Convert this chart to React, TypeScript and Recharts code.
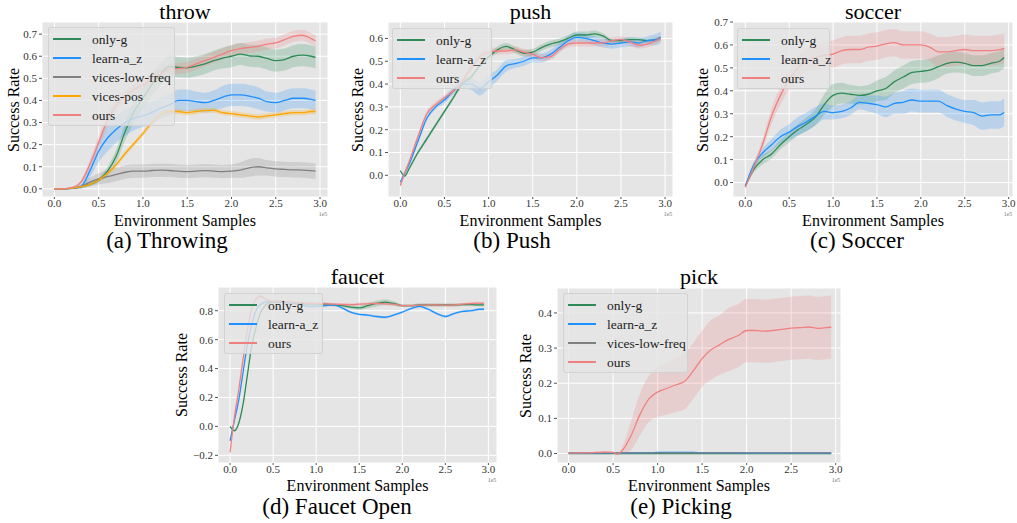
import React from "react"
import { Area, CartesianGrid, ComposedChart, Line, XAxis, YAxis } from "recharts"

const FONT = '"Liberation Serif", "Times New Roman", serif'

const COLORS = {
  onlyG: "#2e8b57",
  learnAz: "#1e90ff",
  vicesLow: "#808080",
  vicesPos: "#ffa500",
  ours: "#f08080",
}
const LABELS = {
  onlyG: "only-g",
  learnAz: "learn-a_z",
  vicesLow: "vices-low-freq",
  vicesPos: "vices-pos",
  ours: "ours",
}

const xTicks = [0, 0.5, 1, 1.5, 2, 2.5, 3]

// ---- throw ----
const throwX = [0, 0.1, 0.2, 0.3, 0.4, 0.5, 0.6, 0.7, 0.8, 0.9, 1.0, 1.1, 1.2, 1.3, 1.4, 1.5, 1.6, 1.7, 1.8, 1.9, 2.0, 2.1, 2.2, 2.3, 2.4, 2.5, 2.6, 2.7, 2.8, 2.9, 2.95]
const throwOnlyG = [0, 0, 0.002, 0.01, 0.02, 0.04, 0.08, 0.15, 0.26, 0.35, 0.41, 0.47, 0.52, 0.553, 0.55, 0.548, 0.555, 0.565, 0.58, 0.592, 0.6, 0.61, 0.602, 0.6, 0.59, 0.58, 0.585, 0.6, 0.605, 0.6, 0.595]
const throwOnlyGBand = [0.002, 0.002, 0.003, 0.005, 0.008, 0.01, 0.02, 0.03, 0.04, 0.05, 0.05, 0.05, 0.05, 0.05, 0.045, 0.045, 0.045, 0.045, 0.045, 0.048, 0.05, 0.05, 0.05, 0.05, 0.05, 0.05, 0.05, 0.05, 0.05, 0.05, 0.05]
const throwLearn = [0, 0, 0.002, 0.01, 0.08, 0.17, 0.23, 0.27, 0.3, 0.32, 0.33, 0.345, 0.365, 0.38, 0.4, 0.4, 0.395, 0.39, 0.4, 0.415, 0.425, 0.425, 0.42, 0.41, 0.395, 0.39, 0.4, 0.41, 0.41, 0.405, 0.4]
const throwLearnBand = [0.002, 0.002, 0.003, 0.01, 0.03, 0.05, 0.06, 0.06, 0.06, 0.055, 0.05, 0.05, 0.05, 0.05, 0.05, 0.05, 0.045, 0.045, 0.045, 0.05, 0.05, 0.05, 0.05, 0.05, 0.045, 0.045, 0.045, 0.045, 0.045, 0.045, 0.045]
const throwVicesLow = [0, 0, 0.003, 0.01, 0.03, 0.045, 0.055, 0.065, 0.075, 0.08, 0.08, 0.083, 0.085, 0.083, 0.08, 0.078, 0.08, 0.082, 0.08, 0.078, 0.08, 0.085, 0.095, 0.1, 0.095, 0.09, 0.088, 0.086, 0.085, 0.082, 0.08]
const throwVicesLowBand = [0.002, 0.002, 0.005, 0.01, 0.02, 0.025, 0.03, 0.03, 0.03, 0.03, 0.03, 0.03, 0.03, 0.03, 0.03, 0.03, 0.03, 0.03, 0.03, 0.03, 0.03, 0.035, 0.04, 0.04, 0.035, 0.035, 0.035, 0.035, 0.035, 0.035, 0.035]
const throwVicesPos = [0, 0, 0.003, 0.01, 0.02, 0.04, 0.07, 0.11, 0.16, 0.205, 0.25, 0.3, 0.335, 0.35, 0.35, 0.345, 0.35, 0.355, 0.355, 0.345, 0.34, 0.335, 0.33, 0.325, 0.33, 0.335, 0.34, 0.345, 0.345, 0.35, 0.35]
const throwVicesPosBand = [0.002, 0.002, 0.003, 0.005, 0.005, 0.008, 0.01, 0.012, 0.012, 0.012, 0.012, 0.012, 0.012, 0.012, 0.012, 0.012, 0.012, 0.012, 0.012, 0.012, 0.012, 0.012, 0.012, 0.012, 0.012, 0.012, 0.012, 0.012, 0.012, 0.012, 0.012]
const throwOurs = [0, 0, 0.005, 0.03, 0.11, 0.21, 0.31, 0.38, 0.42, 0.45, 0.47, 0.5, 0.52, 0.54, 0.545, 0.55, 0.565, 0.58, 0.595, 0.61, 0.625, 0.635, 0.64, 0.645, 0.655, 0.66, 0.675, 0.69, 0.695, 0.68, 0.67]
const throwOursBand = [0.002, 0.003, 0.005, 0.01, 0.02, 0.03, 0.03, 0.03, 0.025, 0.025, 0.025, 0.025, 0.025, 0.025, 0.025, 0.025, 0.025, 0.025, 0.025, 0.025, 0.025, 0.025, 0.025, 0.025, 0.025, 0.025, 0.025, 0.025, 0.025, 0.025, 0.025]

// ---- push ----
const pushX = [0, 0.05, 0.1, 0.2, 0.3, 0.4, 0.5, 0.6, 0.7, 0.8, 0.9, 1.0, 1.1, 1.2, 1.3, 1.4, 1.5, 1.6, 1.7, 1.8, 1.9, 2.0, 2.1, 2.2, 2.3, 2.4, 2.5, 2.6, 2.7, 2.8, 2.9, 2.95]
const pushOnlyG = [0.02, -0.003, 0.03, 0.1, 0.16, 0.22, 0.28, 0.34, 0.4, 0.43, 0.48, 0.52, 0.55, 0.565, 0.55, 0.535, 0.54, 0.56, 0.575, 0.585, 0.6, 0.615, 0.615, 0.62, 0.61, 0.59, 0.59, 0.595, 0.595, 0.59, 0.595, 0.6]
const pushOnlyGBand = [0.005, 0.005, 0.008, 0.01, 0.01, 0.01, 0.01, 0.01, 0.01, 0.01, 0.01, 0.012, 0.015, 0.015, 0.015, 0.015, 0.015, 0.015, 0.015, 0.015, 0.015, 0.015, 0.015, 0.015, 0.012, 0.01, 0.01, 0.01, 0.01, 0.01, 0.01, 0.01]
const pushLearn = [-0.03, 0.01, 0.05, 0.15, 0.25, 0.3, 0.33, 0.37, 0.4, 0.4, 0.38, 0.41, 0.44, 0.48, 0.49, 0.5, 0.515, 0.515, 0.53, 0.56, 0.59, 0.605, 0.6, 0.59, 0.58, 0.575, 0.58, 0.585, 0.58, 0.59, 0.595, 0.605]
const pushLearnBand = [0.01, 0.01, 0.01, 0.01, 0.01, 0.01, 0.015, 0.015, 0.02, 0.025, 0.03, 0.03, 0.025, 0.025, 0.02, 0.02, 0.02, 0.02, 0.02, 0.02, 0.02, 0.02, 0.02, 0.02, 0.02, 0.02, 0.02, 0.02, 0.02, 0.02, 0.025, 0.025]
const pushOurs = [-0.045, 0.01, 0.06, 0.17, 0.27, 0.31, 0.34, 0.37, 0.41, 0.47, 0.52, 0.54, 0.545, 0.545, 0.55, 0.54, 0.53, 0.515, 0.52, 0.55, 0.575, 0.58, 0.58, 0.58, 0.58, 0.59, 0.595, 0.585, 0.57, 0.575, 0.59, 0.6]
const pushOursBand = [0.01, 0.01, 0.01, 0.012, 0.012, 0.012, 0.012, 0.012, 0.015, 0.015, 0.015, 0.015, 0.015, 0.015, 0.015, 0.015, 0.015, 0.015, 0.015, 0.015, 0.015, 0.015, 0.015, 0.015, 0.015, 0.015, 0.015, 0.015, 0.015, 0.015, 0.015, 0.015]

// ---- soccer ----
const soccerX = [0, 0.1, 0.2, 0.3, 0.4, 0.5, 0.6, 0.7, 0.8, 0.9, 1.0, 1.1, 1.2, 1.3, 1.4, 1.5, 1.6, 1.7, 1.8, 1.9, 2.0, 2.1, 2.2, 2.3, 2.4, 2.5, 2.6, 2.7, 2.8, 2.9, 2.95]
const soccerOnlyG = [-0.015, 0.06, 0.1, 0.125, 0.165, 0.2, 0.23, 0.255, 0.285, 0.34, 0.38, 0.39, 0.385, 0.38, 0.385, 0.4, 0.41, 0.44, 0.46, 0.48, 0.485, 0.49, 0.505, 0.52, 0.525, 0.52, 0.51, 0.51, 0.52, 0.53, 0.545]
const soccerOnlyGBand = [0.005, 0.015, 0.02, 0.02, 0.02, 0.025, 0.025, 0.03, 0.035, 0.045, 0.05, 0.045, 0.04, 0.04, 0.04, 0.045, 0.05, 0.05, 0.05, 0.05, 0.05, 0.05, 0.05, 0.045, 0.045, 0.045, 0.045, 0.045, 0.045, 0.045, 0.045]
const soccerLearn = [-0.015, 0.08, 0.13, 0.165, 0.2, 0.22, 0.245, 0.265, 0.29, 0.31, 0.305, 0.31, 0.325, 0.35, 0.345, 0.34, 0.33, 0.345, 0.35, 0.36, 0.355, 0.355, 0.355, 0.335, 0.32, 0.31, 0.305, 0.29, 0.295, 0.295, 0.305]
const soccerLearnBand = [0.005, 0.015, 0.02, 0.025, 0.03, 0.035, 0.04, 0.04, 0.04, 0.035, 0.03, 0.03, 0.03, 0.03, 0.035, 0.04, 0.045, 0.045, 0.05, 0.05, 0.05, 0.05, 0.05, 0.05, 0.05, 0.05, 0.055, 0.06, 0.06, 0.06, 0.06]
const soccerOurs = [-0.02, 0.07, 0.17, 0.29, 0.38, 0.45, 0.5, 0.535, 0.545, 0.555, 0.56, 0.575, 0.58, 0.58, 0.59, 0.595, 0.605, 0.61, 0.6, 0.6, 0.6, 0.59, 0.57, 0.57, 0.575, 0.58, 0.575, 0.575, 0.575, 0.58, 0.585]
const soccerOursBand = [0.005, 0.015, 0.025, 0.035, 0.04, 0.045, 0.05, 0.05, 0.055, 0.055, 0.06, 0.06, 0.06, 0.06, 0.06, 0.06, 0.06, 0.06, 0.06, 0.06, 0.06, 0.06, 0.065, 0.065, 0.065, 0.065, 0.065, 0.065, 0.065, 0.065, 0.065]

// ---- faucet ----
const faucetX = [0, 0.05, 0.1, 0.15, 0.2, 0.25, 0.3, 0.35, 0.4, 0.45, 0.5, 0.6, 0.7, 0.8, 0.9, 1.0, 1.1, 1.2, 1.3, 1.4, 1.5, 1.6, 1.7, 1.8, 1.9, 2.0, 2.1, 2.2, 2.3, 2.4, 2.5, 2.6, 2.7, 2.8, 2.9, 2.95]
const faucetOnlyG = [0.0, -0.03, 0.02, 0.15, 0.35, 0.55, 0.68, 0.78, 0.83, 0.855, 0.86, 0.86, 0.855, 0.85, 0.848, 0.845, 0.845, 0.84, 0.835, 0.825, 0.82, 0.835, 0.85, 0.86, 0.85, 0.835, 0.835, 0.84, 0.84, 0.84, 0.84, 0.84, 0.842, 0.842, 0.84, 0.84]
const faucetOnlyGBand = [0.005, 0.005, 0.01, 0.01, 0.01, 0.01, 0.01, 0.01, 0.01, 0.01, 0.01, 0.01, 0.01, 0.01, 0.01, 0.01, 0.01, 0.01, 0.01, 0.012, 0.015, 0.018, 0.02, 0.02, 0.015, 0.01, 0.01, 0.01, 0.01, 0.01, 0.01, 0.01, 0.01, 0.01, 0.01, 0.01]
const faucetLearn = [-0.1, 0.04, 0.18, 0.37, 0.56, 0.7, 0.8, 0.84, 0.86, 0.865, 0.865, 0.86, 0.855, 0.845, 0.83, 0.83, 0.835, 0.84, 0.82, 0.79, 0.775, 0.77, 0.76, 0.755, 0.77, 0.79, 0.815, 0.83, 0.81, 0.78, 0.76, 0.78, 0.795, 0.8, 0.81, 0.81]
const faucetLearnBand = [0.005, 0.005, 0.008, 0.008, 0.008, 0.008, 0.008, 0.008, 0.008, 0.008, 0.008, 0.008, 0.008, 0.008, 0.008, 0.008, 0.008, 0.008, 0.008, 0.008, 0.008, 0.008, 0.008, 0.008, 0.008, 0.008, 0.008, 0.008, 0.008, 0.008, 0.008, 0.008, 0.008, 0.008, 0.008, 0.008]
const faucetOurs = [-0.18, 0.06, 0.25, 0.46, 0.66, 0.81, 0.88, 0.9, 0.885, 0.87, 0.865, 0.865, 0.86, 0.855, 0.85, 0.85, 0.848, 0.845, 0.843, 0.842, 0.845, 0.848, 0.85, 0.848, 0.845, 0.835, 0.835, 0.838, 0.84, 0.84, 0.838, 0.84, 0.845, 0.85, 0.852, 0.85]
const faucetOursBand = [0.005, 0.008, 0.01, 0.01, 0.01, 0.01, 0.01, 0.01, 0.01, 0.01, 0.01, 0.01, 0.01, 0.01, 0.01, 0.01, 0.01, 0.01, 0.01, 0.01, 0.01, 0.01, 0.01, 0.01, 0.01, 0.01, 0.01, 0.01, 0.01, 0.01, 0.01, 0.01, 0.01, 0.01, 0.01, 0.01]

// ---- pick ----
const pickX = [0, 0.1, 0.2, 0.3, 0.4, 0.5, 0.55, 0.6, 0.7, 0.8, 0.9, 1.0, 1.1, 1.2, 1.3, 1.4, 1.5, 1.6, 1.7, 1.8, 1.9, 2.0, 2.1, 2.2, 2.3, 2.4, 2.5, 2.6, 2.7, 2.8, 2.9, 2.95]
const pickOnlyG = [0, 0, 0, 0, 0, 0, 0, 0, 0, 0, 0, 0, 0, 0, 0, 0, 0, 0, 0, 0, 0, 0, 0, 0, 0, 0, 0, 0, 0, 0, 0, 0]
const pickOnlyGBand = [0.001, 0.001, 0.001, 0.001, 0.001, 0.001, 0.001, 0.001, 0.001, 0.001, 0.001, 0.001, 0.001, 0.001, 0.001, 0.001, 0.001, 0.001, 0.001, 0.001, 0.001, 0.001, 0.001, 0.001, 0.001, 0.001, 0.001, 0.001, 0.001, 0.001, 0.001, 0.001]
const pickLearn = [0.001, 0.001, 0.001, 0.001, 0.001, 0.001, 0.001, 0.001, 0.002, 0.002, 0.002, 0.003, 0.003, 0.003, 0.003, 0.003, 0.002, 0.002, 0.002, 0.002, 0.002, 0.001, 0.001, 0.001, 0.001, 0.001, 0.001, 0.001, 0.001, 0.001, 0.001, 0.001]
const pickLearnBand = [0.001, 0.001, 0.001, 0.001, 0.001, 0.001, 0.001, 0.001, 0.002, 0.002, 0.002, 0.002, 0.002, 0.002, 0.002, 0.002, 0.002, 0.002, 0.001, 0.001, 0.001, 0.001, 0.001, 0.001, 0.001, 0.001, 0.001, 0.001, 0.001, 0.001, 0.001, 0.001]
const pickVicesLow = [0.002, 0.002, 0.002, 0.002, 0.002, 0.002, 0.002, 0.002, 0.002, 0.002, 0.002, 0.002, 0.002, 0.002, 0.002, 0.002, 0.002, 0.002, 0.002, 0.002, 0.002, 0.002, 0.002, 0.002, 0.002, 0.002, 0.002, 0.002, 0.002, 0.002, 0.002, 0.002]
const pickVicesLowBand = [0.001, 0.001, 0.001, 0.001, 0.001, 0.001, 0.001, 0.001, 0.001, 0.001, 0.001, 0.001, 0.001, 0.001, 0.001, 0.001, 0.001, 0.001, 0.001, 0.001, 0.001, 0.001, 0.001, 0.001, 0.001, 0.001, 0.001, 0.001, 0.001, 0.001, 0.001, 0.001]
const pickOurs = [0.001, 0.002, 0.002, 0.003, 0.004, 0.003, -0.002, 0.008, 0.05, 0.11, 0.155, 0.175, 0.185, 0.195, 0.205, 0.235, 0.27, 0.295, 0.31, 0.325, 0.335, 0.35, 0.35, 0.348, 0.35, 0.353, 0.357, 0.358, 0.36, 0.356, 0.358, 0.36]
const pickOursBand = [0.001, 0.001, 0.002, 0.002, 0.003, 0.003, 0.002, 0.01, 0.04, 0.06, 0.065, 0.072, 0.075, 0.077, 0.08, 0.08, 0.08, 0.085, 0.085, 0.09, 0.09, 0.09, 0.09, 0.09, 0.09, 0.09, 0.09, 0.09, 0.09, 0.09, 0.09, 0.09]

type Key = keyof typeof COLORS
type Series = { key: Key; mean: number[]; band: number[] }
type PanelCfg = {
  title: string
  caption: string
  row: 0 | 1
  box: [number, number, number, number]
  xDomain: [number, number]
  yDomain: [number, number]
  yTicks: number[]
  xs: number[]
  series: Series[]
  legend: [number, number, number]
  ylabelX: number
  captionX: number
}

const panels: PanelCfg[] = [
  {
    title: "throw", caption: "(a) Throwing", row: 0,
    box: [42, 22, 328, 197], xDomain: [-0.14, 3.09], yDomain: [-0.037, 0.755],
    yTicks: [0, 0.1, 0.2, 0.3, 0.4, 0.5, 0.6, 0.7], xs: throwX,
    series: [
      { key: "onlyG", mean: throwOnlyG, band: throwOnlyGBand },
      { key: "learnAz", mean: throwLearn, band: throwLearnBand },
      { key: "vicesLow", mean: throwVicesLow, band: throwVicesLowBand },
      { key: "vicesPos", mean: throwVicesPos, band: throwVicesPosBand },
      { key: "ours", mean: throwOurs, band: throwOursBand },
    ],
    legend: [48, 27, 127], ylabelX: 14, captionX: 167,
  },
  {
    title: "push", caption: "(b) Push", row: 0,
    box: [388, 22, 673, 197], xDomain: [-0.14, 3.09], yDomain: [-0.095, 0.672],
    yTicks: [0, 0.1, 0.2, 0.3, 0.4, 0.5, 0.6], xs: pushX,
    series: [
      { key: "onlyG", mean: pushOnlyG, band: pushOnlyGBand },
      { key: "learnAz", mean: pushLearn, band: pushLearnBand },
      { key: "ours", mean: pushOurs, band: pushOursBand },
    ],
    legend: [392, 28, 100], ylabelX: 358, captionX: 512,
  },
  {
    title: "soccer", caption: "(c) Soccer", row: 0,
    box: [733, 22, 1013, 197], xDomain: [-0.14, 3.05], yDomain: [-0.063, 0.7],
    yTicks: [0, 0.1, 0.2, 0.3, 0.4, 0.5, 0.6, 0.7], xs: soccerX,
    series: [
      { key: "onlyG", mean: soccerOnlyG, band: soccerOnlyGBand },
      { key: "learnAz", mean: soccerLearn, band: soccerLearnBand },
      { key: "ours", mean: soccerOurs, band: soccerOursBand },
    ],
    legend: [737, 28, 93], ylabelX: 703, captionX: 857,
  },
  {
    title: "faucet", caption: "(d) Faucet Open", row: 1,
    box: [218, 287, 497, 463], xDomain: [-0.14, 3.1], yDomain: [-0.253, 0.964],
    yTicks: [-0.2, 0, 0.2, 0.4, 0.6, 0.8], xs: faucetX,
    series: [
      { key: "onlyG", mean: faucetOnlyG, band: faucetOnlyGBand },
      { key: "learnAz", mean: faucetLearn, band: faucetLearnBand },
      { key: "ours", mean: faucetOurs, band: faucetOursBand },
    ],
    legend: [224, 293, 99], ylabelX: 182, captionX: 337,
  },
  {
    title: "pick", caption: "(e) Picking", row: 1,
    box: [557, 288, 841, 463], xDomain: [-0.13, 3.06], yDomain: [-0.027, 0.471],
    yTicks: [0, 0.1, 0.2, 0.3, 0.4], xs: pickX,
    series: [
      { key: "onlyG", mean: pickOnlyG, band: pickOnlyGBand },
      { key: "learnAz", mean: pickLearn, band: pickLearnBand },
      { key: "vicesLow", mean: pickVicesLow, band: pickVicesLowBand },
      { key: "ours", mean: pickOurs, band: pickOursBand },
    ],
    legend: [563, 293, 125], ylabelX: 526, captionX: 681,
  },
]

const ROW_TEXT = [
  { title: 19, xlabel: 226, caption: 248 },
  { title: 284, xlabel: 491, caption: 514 },
]

function fmt(v: number) {
  const s = Math.abs(v).toFixed(1)
  return v < -1e-9 ? `\u2212${s}` : s
}

function buildRows(xs: number[], series: Series[]) {
  return xs.map((x, i) => {
    const row: Record<string, any> = { x }
    series.forEach((s) => {
      row[s.key] = s.mean[i]
      row[s.key + "Band"] = [s.mean[i] - s.band[i], s.mean[i] + s.band[i]]
    })
    return row
  })
}

// text placed by its baseline, centred on x
function Txt({ x, baseline, size, children, color = "#000" }: any) {
  return (
    <div
      style={{
        position: "absolute",
        left: x,
        top: baseline - 0.8375 * size,
        transform: "translateX(-50%)",
        fontFamily: FONT,
        fontSize: size,
        lineHeight: `${size}px`,
        whiteSpace: "nowrap",
        color,
      }}
    >
      {children}
    </div>
  )
}

const tickStyle = { fontSize: 11, fill: "#333", fontFamily: FONT }

function Panel({ cfg }: { cfg: PanelCfg }) {
  const [x0, y0, x1, y1] = cfg.box
  const L = 45, T = 8, R = 8, B = 22
  const rows = buildRows(cfg.xs, cfg.series)
  const txt = ROW_TEXT[cfg.row]
  const cx = (x0 + x1) / 2
  const [lx, ly, lw] = cfg.legend
  return (
    <>
      <div style={{ position: "absolute", left: x0 - L, top: y0 - T }}>
        <ComposedChart
          width={x1 - x0 + L + R}
          height={y1 - y0 + T + B}
          data={rows}
          margin={{ top: T, right: R, bottom: 0, left: 0 }}
        >
          <CartesianGrid fill="#e5e5e5" fillOpacity={1} stroke="#ffffff" strokeWidth={1} />
          <XAxis
            dataKey="x"
            type="number"
            domain={cfg.xDomain}
            ticks={xTicks}
            allowDataOverflow
            interval={0}
            height={B}
            tickSize={2}
            tickMargin={0}
            axisLine={false}
            tickLine={{ stroke: "#555" }}
            tick={tickStyle}
            tickFormatter={fmt}
          />
          <YAxis
            type="number"
            domain={cfg.yDomain}
            ticks={cfg.yTicks}
            allowDataOverflow
            interval={0}
            width={L}
            tickSize={3}
            tickMargin={2}
            axisLine={false}
            tickLine={{ stroke: "#555" }}
            tick={tickStyle}
            tickFormatter={fmt}
          />
          {cfg.series.map((s) => (
            <Area
              key={s.key + "Band"}
              dataKey={s.key + "Band"}
              type="monotone"
              stroke="none"
              fill={COLORS[s.key]}
              fillOpacity={0.22}
              activeDot={false}
              isAnimationActive={false}
            />
          ))}
          {cfg.series.map((s) => (
            <Line
              key={s.key}
              dataKey={s.key}
              type="monotone"
              stroke={COLORS[s.key]}
              strokeWidth={1.3}
              dot={false}
              activeDot={false}
              isAnimationActive={false}
            />
          ))}
        </ComposedChart>
      </div>

      {/* legend */}
      <div
        style={{
          position: "absolute",
          left: lx,
          top: ly,
          width: lw,
          height: 19 * cfg.series.length + 4,
          background: "rgba(229,229,229,0.8)",
          border: "1px solid rgba(205,205,205,0.8)",
          borderRadius: 3,
          boxSizing: "border-box",
        }}
      >
        {cfg.series.map((s, i) => (
          <div key={s.key} style={{ position: "absolute", left: 0, top: 1.5 + 19 * i, height: 19, width: "100%" }}>
            <div style={{ position: "absolute", left: 4, top: 8.5, width: 28, height: 1.5, background: COLORS[s.key] }} />
            <div
              style={{
                position: "absolute",
                left: 43,
                top: 0,
                fontFamily: FONT,
                fontSize: 13.5,
                lineHeight: "19px",
                whiteSpace: "nowrap",
                color: "#222",
              }}
            >
              {LABELS[s.key]}
            </div>
          </div>
        ))}
      </div>

      <Txt x={cx} baseline={txt.title} size={22}>{cfg.title}</Txt>
      <Txt x={cx} baseline={txt.xlabel} size={16}>Environment Samples</Txt>
      <Txt x={cfg.captionX} baseline={txt.caption} size={23}>{cfg.caption}</Txt>
      <Txt x={x1 - 5} baseline={y1 + 19} size={6} color="#777">1e5</Txt>
      <div
        style={{
          position: "absolute",
          left: cfg.ylabelX,
          top: (y0 + y1) / 2,
          transform: "translate(-50%, -50%) rotate(-90deg)",
          fontFamily: FONT,
          fontSize: 16,
          lineHeight: "16px",
          whiteSpace: "nowrap",
        }}
      >
        Success Rate
      </div>
    </>
  )
}

export default function App() {
  return (
    <div style={{ position: "absolute", left: 0, top: 0, width: 1017, height: 523, background: "#fff", overflow: "hidden" }}>
      {panels.map((p) => (
        <Panel key={p.title} cfg={p} />
      ))}
    </div>
  )
}
